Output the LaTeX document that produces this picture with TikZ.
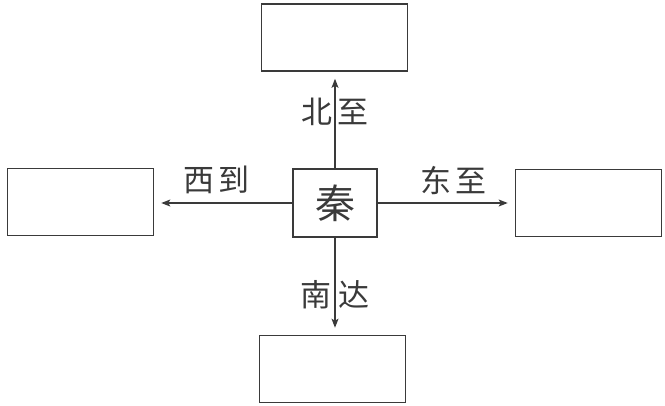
\documentclass[tikz,border=0pt]{standalone}
\usepackage{xcolor}
\usepackage{fontspec}
\usepackage{tikz}
\usetikzlibrary{shapes,arrows.meta}
\newfontfamily\cjk{Noto Sans CJK SC}
\definecolor{ink}{HTML}{3A3A3A}

\begin{document}
\begin{tikzpicture}[x=1pt,y=-1pt]
\tikzstyle{place} = [draw=ink,line width=1.6pt,minimum width=146pt,minimum height=67pt,inner sep=0pt];
\tikzstyle{centre} = [draw=ink,line width=1.6pt,minimum width=84pt,minimum height=68pt,inner sep=0pt,font=\cjk\fontsize{40}{42}\selectfont,text=ink];
\tikzstyle{way} = [draw=ink,line width=1.4pt,-{Stealth[length=9pt,width=7pt,inset=2pt]},shorten >=7pt];
\tikzstyle{lbl} = [font=\cjk\fontsize{31}{34}\selectfont,text=ink,inner sep=0pt];
\useasboundingbox (0,0) rectangle (665,405);

\node [centre] (Qin) at (335,203) {秦};
\node [place] (N) at (334.5,37.5) {};
\node [place] (S) at (332.5,369) {};
\node [place] (W) at (80.5,202) {};
\node [place] (E) at (588.5,203) {};

\draw [way] (Qin.north) -- (Qin.north |- N.south) node [lbl,pos=0.58] (v1) {北\hspace{6pt}至};
\draw [way] (Qin.south) -- (Qin.south |- S.north) node [lbl,pos=0.59] (v2) {南\hspace{8pt}达};
\draw [way] (Qin.west) -- (Qin.west -| W.east) node [lbl,pos=0.55,yshift=23pt] (v3) {西\hspace{4pt}到};
\draw [way] (Qin.east) -- (Qin.east -| E.west) node [lbl,pos=0.55,yshift=23pt] (v4) {东\hspace{4pt}至};

\end{tikzpicture}
\end{document}
